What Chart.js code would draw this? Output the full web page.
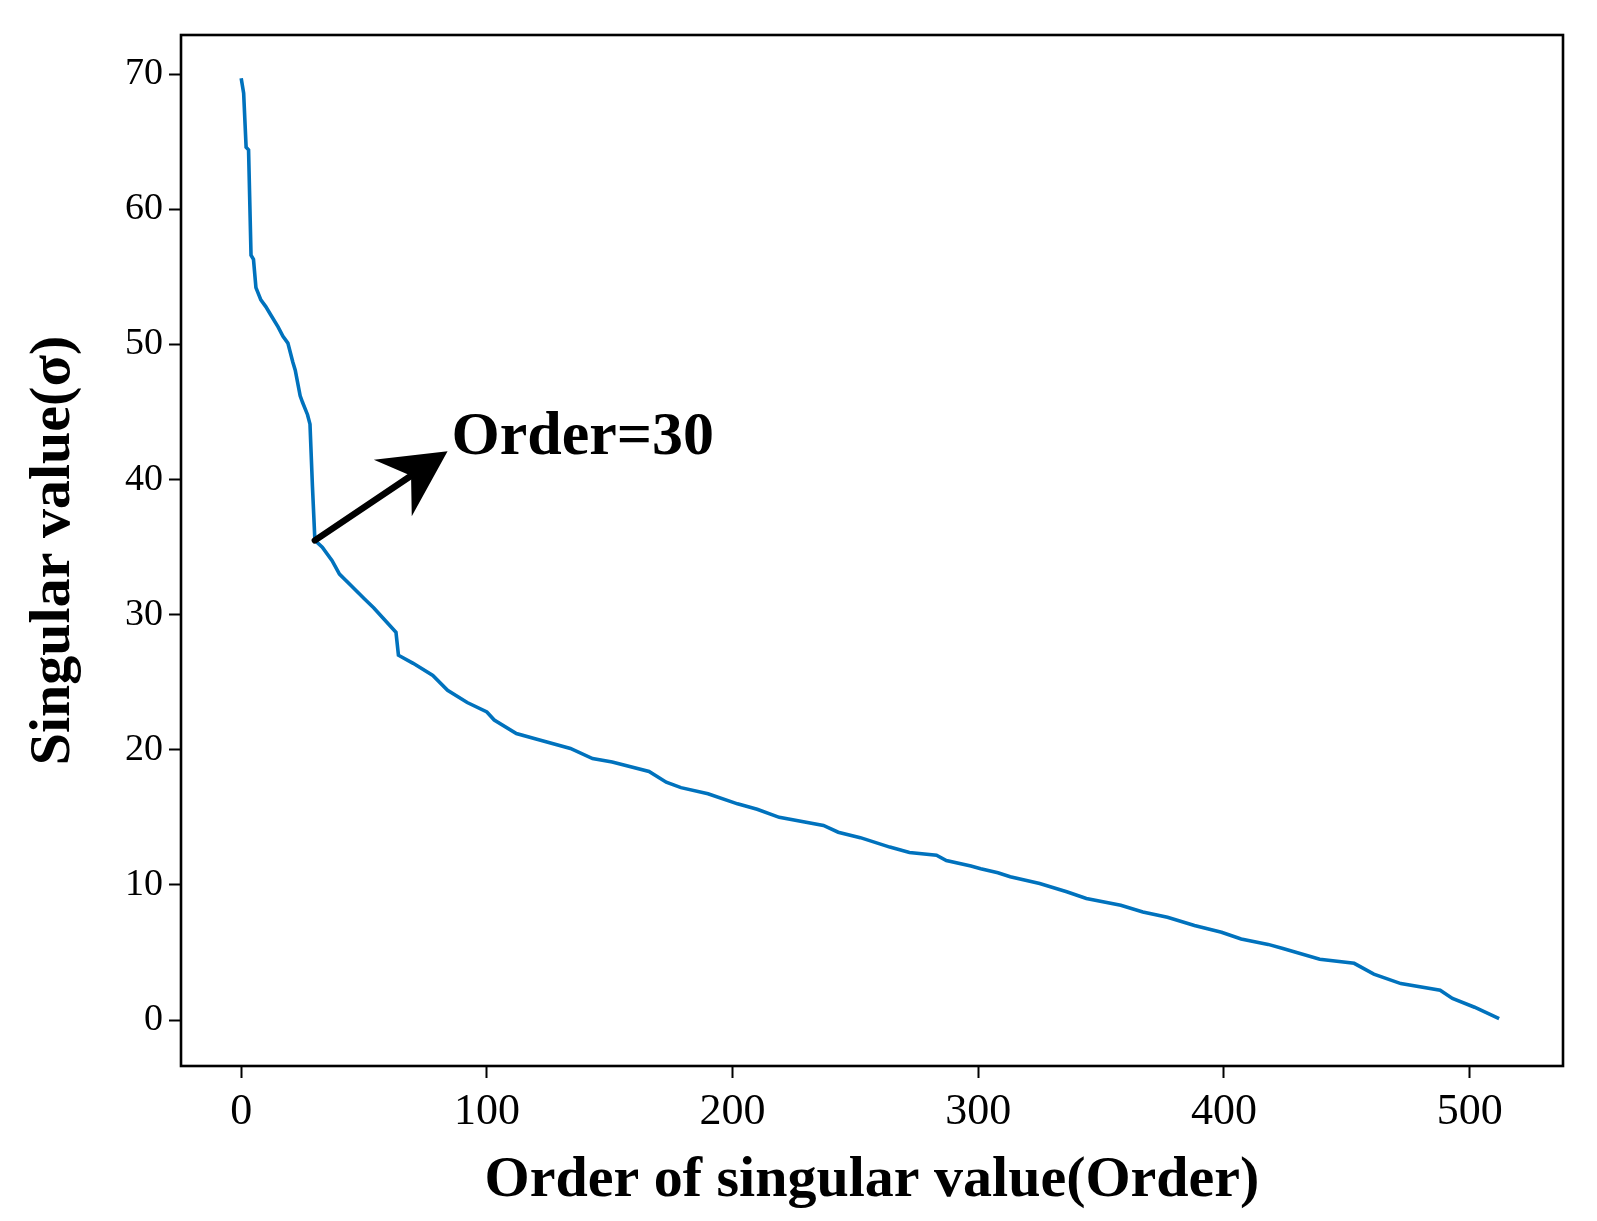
<!DOCTYPE html>
<html lang="en">
<head>
    <meta charset="UTF-8">
    <title>Singular values</title>
    <script src="https://cdn.jsdelivr.net/npm/chart.js@4.4.1/dist/chart.umd.min.js"></script>
    <style>
        body {
            margin: 0;
            background: #fff;
        }
        #wrap {
            width: 1597px;
            height: 1221px;
        }
    </style>
</head>
<body>
    <div id="wrap">
        <canvas id="svdPlot" width="1597" height="1221"></canvas>
    </div>

    <script>
        // singular values (order -> sigma)
        const svdOrder = [0, 1, 2, 3, 4, 5, 6, 8, 10, 12, 15, 17, 19, 21, 22, 24, 25, 27, 28, 29, 30,
            33, 37, 40, 45, 50, 54, 59, 63, 64, 70, 78, 84, 92, 100, 103, 112, 120, 134, 143, 151,
            166, 173, 179, 190, 202, 210, 219, 237, 243, 252, 264, 272, 283, 287, 297, 301, 308,
            313, 325, 336, 344, 358, 367, 377, 388, 399, 407, 418, 424, 439, 453, 461, 472, 488,
            493, 502, 512];
        const svdValue = [69.7, 68.6, 64.6, 64.4, 56.6, 56.3, 54.2, 53.3, 52.8, 52.2, 51.3, 50.6, 50.1,
            48.7, 48.1, 46.2, 45.7, 44.8, 44.1, 39.5, 35.5,
            35.0, 34.0, 33.0, 32.1, 31.2, 30.5, 29.5, 28.7, 27.0, 26.4, 25.5, 24.4, 23.5, 22.8, 22.2,
            21.2, 20.8, 20.1, 19.35, 19.1, 18.4, 17.6, 17.2, 16.75, 16.0, 15.6, 15.0, 14.4, 13.9,
            13.5, 12.8, 12.4, 12.2, 11.8, 11.4, 11.2, 10.9, 10.6, 10.1, 9.5, 9.0, 8.5, 8.0, 7.6,
            7.0, 6.5, 6.0, 5.6, 5.3, 4.5, 4.2, 3.4, 2.7, 2.2, 1.6, 0.95, 0.1];

        const xTicks = [0, 100, 200, 300, 400, 500];
        const yTicks = [0, 10, 20, 30, 40, 50, 60, 70];

        // annotation: arrow from the elbow to the label
        const elbowPoint = [30, 35.5];
        const arrowTip = [84, 42.1];
        const labelPoint = [85.6, 41.9];
        const labelText = 'Order=30';

        Chart.defaults.font.family = '"Liberation Serif", "Times New Roman", serif';
        Chart.defaults.color = '#000';

        const annotationPlugin = {
            id: 'annotation',
            afterDatasetsDraw(chart) {
                const ctx = chart.ctx;
                const xs = chart.scales.x, ys = chart.scales.y;
                const x0 = xs.getPixelForValue(elbowPoint[0]), y0 = ys.getPixelForValue(elbowPoint[1]);
                const x1 = xs.getPixelForValue(arrowTip[0]), y1 = ys.getPixelForValue(arrowTip[1]);
                const len = Math.hypot(x1 - x0, y1 - y0);
                const ux = (x1 - x0) / len, uy = (y1 - y0) / len;
                const nx = -uy, ny = ux;
                const headLen = 66, headHalf = 34, notch = 44;

                ctx.save();
                ctx.strokeStyle = '#000';
                ctx.fillStyle = '#000';
                ctx.lineWidth = 6.5;
                ctx.lineCap = 'round';
                ctx.beginPath();
                ctx.moveTo(x0, y0);
                ctx.lineTo(x1 - ux * notch, y1 - uy * notch);
                ctx.stroke();

                ctx.beginPath();
                ctx.moveTo(x1, y1);
                ctx.lineTo(x1 - ux * headLen + nx * headHalf, y1 - uy * headLen + ny * headHalf);
                ctx.lineTo(x1 - ux * notch, y1 - uy * notch);
                ctx.lineTo(x1 - ux * headLen - nx * headHalf, y1 - uy * headLen - ny * headHalf);
                ctx.closePath();
                ctx.fill();

                ctx.font = 'bold 62px "Liberation Serif", serif';
                ctx.textAlign = 'left';
                ctx.textBaseline = 'alphabetic';
                ctx.fillText(labelText, xs.getPixelForValue(labelPoint[0]), ys.getPixelForValue(labelPoint[1]));
                ctx.restore();
            },
            afterDraw(chart) {
                const {left, top, right, bottom} = chart.chartArea;
                const ctx = chart.ctx;
                ctx.save();
                ctx.strokeStyle = '#000';
                ctx.lineWidth = 2.6;
                ctx.strokeRect(left, top, right - left, bottom - top);
                ctx.restore();
            }
        };

        const ctx = document.getElementById('svdPlot').getContext('2d');
        new Chart(ctx, {
            type: 'line',
            data: {
                datasets: [{
                    data: svdOrder.map((x, i) => ({x, y: svdValue[i]})),
                    borderColor: '#0072BD',
                    borderWidth: 3.6,
                    tension: 0,
                    pointRadius: 0
                }]
            },
            options: {
                responsive: false,
                animation: false,
                layout: { padding: { top: 35, right: 34, left: 0, bottom: 0 } },
                plugins: {
                    legend: { display: false },
                    tooltip: { enabled: false }
                },
                scales: {
                    x: {
                        type: 'linear',
                        min: -24.5,
                        max: 538,
                        afterBuildTicks: (s) => { s.ticks = xTicks.map(v => ({value: v})); },
                        afterFit: (s) => { s.height = 155; },
                        grid: { drawOnChartArea: false, drawTicks: true, tickLength: 12, tickColor: '#000', tickWidth: 2 },
                        border: { display: false },
                        ticks: { font: { size: 44 }, padding: 8, color: '#000', maxRotation: 0 },
                        title: {
                            display: true,
                            text: 'Order of singular value(Order)',
                            font: { size: 58, weight: 'bold' },
                            padding: { top: 0, bottom: 5 },
                            color: '#000'
                        }
                    },
                    y: {
                        min: -3.4,
                        max: 72.9,
                        afterBuildTicks: (s) => { s.ticks = yTicks.map(v => ({value: v})); },
                        afterFit: (s) => { s.width = 181; },
                        grid: { drawOnChartArea: false, drawTicks: true, tickLength: 12, tickColor: '#000', tickWidth: 2 },
                        border: { display: false },
                        ticks: { font: { size: 38 }, padding: 6, color: '#000' },
                        title: {
                            display: true,
                            text: 'Singular value(σ)',
                            font: { size: 58, weight: 'bold' },
                            padding: { top: 19, bottom: 0 },
                            color: '#000'
                        }
                    }
                }
            },
            plugins: [annotationPlugin]
        });
    </script>
</body>
</html>
